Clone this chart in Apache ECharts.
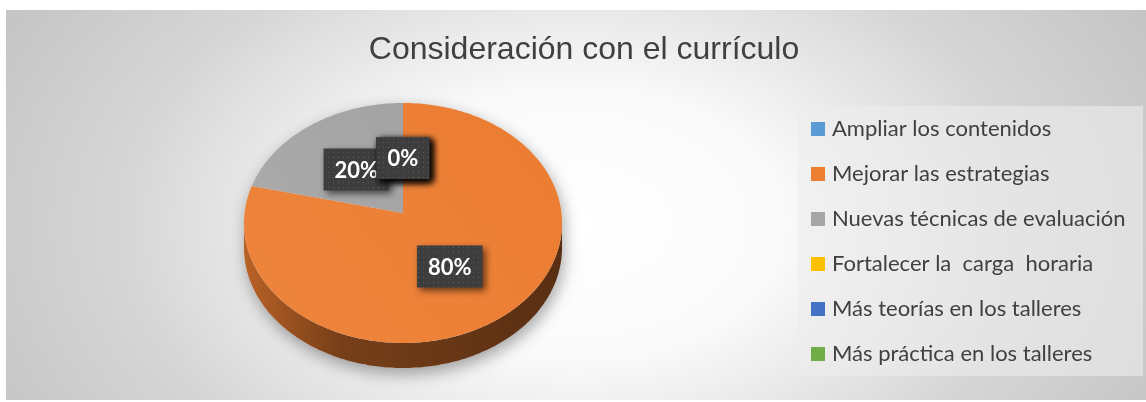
<!DOCTYPE html>
<html>
<head>
<meta charset="utf-8">
<script src="https://cdn.jsdelivr.net/npm/echarts@6/dist/echarts.min.js"></script>
<style>
html, body { margin: 0; padding: 0; background: #fff; }
#wrap { position: relative; width: 1146px; height: 402px; overflow: hidden; }
#main {
  position: absolute; left: 6px; top: 10px; width: 1140px; height: 390px;
  background: radial-gradient(ellipse 60% 115% at 50% 55%, #ffffff 0%, #fafafa 30%, #d6d6d6 66%, #c2c2c2 100%);
}
</style>
</head>
<body>
<div id="wrap"><div id="main"></div></div>
<script>
// datos del gráfico
var titulo = 'Consideración con el currículo';
var categorias = [
  'Ampliar los contenidos',
  'Mejorar las estrategias',
  'Nuevas técnicas de evaluación',
  'Fortalecer la  carga  horaria',
  'Más teorías en los talleres',
  'Más práctica en los talleres'
];
var valores = [0, 80, 20, 0, 0, 0];
var colores = ['#5b9bd5', '#ed7d31', '#a5a5a5', '#ffc000', '#4472c4', '#70ad47'];

// geometría del pastel 3D (elipse)
var CX = 397, CY = 213, RX = 159, RY = 120, PROF = 25, APEX = -10;

var total = valores.reduce(function (a, b) { return a + b; }, 0);

// patrón punteado para las etiquetas
var patron = document.createElement('canvas');
patron.width = 5; patron.height = 5;
var pc = patron.getContext('2d');
pc.fillStyle = '#3d3d3d'; pc.fillRect(0, 0, 5, 5);
pc.fillStyle = '#5c5c5c'; pc.fillRect(2, 2, 1, 1);

var FUENTE_ETQ = 'bold 22px Lato';
var medidor = document.createElement('canvas').getContext('2d');
medidor.font = FUENTE_ETQ;

// oscurece (f<1) o aclara (f>1) un color hex
function tono(hex, f) {
  var r = parseInt(hex.substr(1, 2), 16), g = parseInt(hex.substr(3, 2), 16), b = parseInt(hex.substr(5, 2), 16);
  function c(v) { return Math.max(0, Math.min(255, Math.round(f > 1 ? v + (255 - v) * (f - 1) : v * f))); }
  return 'rgb(' + c(r) + ',' + c(g) + ',' + c(b) + ')';
}

function borde(t, dy) {
  return [CX + RX * Math.sin(t), CY - RY * Math.cos(t) + (dy || 0)];
}

function renderPastel(params, api) {
  var i = params.dataIndex;
  var antes = 0;
  for (var k = 0; k < i; k++) antes += valores[k];
  var a0 = antes / total * Math.PI * 2;
  var a1 = (antes + valores[i]) / total * Math.PI * 2;
  var color = colores[i];
  var hijos = [];

  // sombra de toda la base (solo una vez)
  if (i === 0) {
    var sil = [];
    for (var s = 0; s <= 120; s++) sil.push(borde(s / 120 * Math.PI * 2, s > 30 && s < 90 ? PROF : 0));
    hijos.push({
      type: 'polygon', z2: 1, shape: { points: sil },
      style: { fill: '#ddd', shadowBlur: 16, shadowColor: 'rgba(0,0,0,0.35)', shadowOffsetX: 2, shadowOffsetY: 6 }
    });
  }

  if (a1 > a0) {
    var n = Math.max(2, Math.ceil((a1 - a0) / 0.02));
    // lado visible (mitad frontal)
    var s0 = Math.max(a0, Math.PI / 2), s1 = Math.min(a1, Math.PI * 1.5);
    if (s1 > s0) {
      var arriba = [], abajo = [];
      var m = Math.max(2, Math.ceil((s1 - s0) / 0.02));
      for (var j = 0; j <= m; j++) {
        var t = s0 + (s1 - s0) * j / m;
        arriba.push(borde(t, 0));
        abajo.unshift(borde(t, PROF));
      }
      hijos.push({
        type: 'polygon', z2: 5, shape: { points: arriba.concat(abajo) },
        style: {
          fill: new echarts.graphic.LinearGradient(0, 0, 1, 0, [
            { offset: 0, color: tono(color, 0.78) },
            { offset: 0.3, color: tono(color, 0.5) },
            { offset: 1, color: tono(color, 0.37) }
          ])
        }
      });
    }
    // cara superior
    var pts = [[CX, CY + APEX]];
    for (var q = 0; q <= n; q++) pts.push(borde(a0 + (a1 - a0) * q / n, 0));
    hijos.push({
      type: 'polygon', z2: 10, shape: { points: pts },
      style: {
        fill: new echarts.graphic.LinearGradient(1, 0, 0, 1, [
          { offset: 0, color: tono(color, 0.99) },
          { offset: 1, color: tono(color, 1.06) }
        ])
      }
    });
  }

  // etiqueta de porcentaje
  var medio = (a0 + a1) / 2;
  var p = borde(medio, 0);
  var lx = CX + (p[0] - CX) * 0.5;
  var ly = (CY + APEX) + (p[1] - CY - APEX) * 0.5;
  var txt = Math.round(valores[i] / total * 100) + '%';
  var w = medidor.measureText(txt).width + 22, h = 42;
  hijos.push({
    type: 'rect', z2: 100 + i * 2,
    shape: { x: lx - w / 2, y: ly - h / 2, width: w, height: h },
    style: {
      fill: { image: patron, repeat: 'repeat' },
      shadowBlur: 7, shadowColor: 'rgba(0,0,0,0.6)', shadowOffsetX: 3, shadowOffsetY: 3
    }
  });
  hijos.push({
    type: 'text', z2: 101 + i * 2,
    style: {
      text: txt, x: lx, y: ly + 1, align: 'center', verticalAlign: 'middle',
      fill: '#ffffff', font: FUENTE_ETQ
    }
  });

  return { type: 'group', children: hijos };
}

var myChart = echarts.init(document.getElementById('main'), null, { renderer: 'canvas' });
myChart.setOption({
  animation: false,
  title: {
    text: titulo,
    left: 578,
    top: 24,
    textAlign: 'center',
    padding: 0,
    textStyle: { fontFamily: 'Liberation Sans', fontWeight: 'normal', fontSize: 32, color: '#404040' }
  },
  legend: {
    orient: 'vertical',
    left: 805,
    top: 107,
    padding: 0,
    itemWidth: 14,
    itemHeight: 14,
    itemGap: 21,
    icon: 'rect',
    selectedMode: false,
    data: categorias,
    textStyle: { fontFamily: 'Lato', fontSize: 22, color: '#404040', lineHeight: 24, padding: [0, 0, 0, 2] }
  },
  graphic: [{
    type: 'rect', z: -1, silent: true,
    shape: { x: 792, y: 96, width: 345, height: 270 },
    style: { fill: 'rgba(236,236,236,0.6)' }
  }],
  series: [
    {
      // serie oculta: solo da los nombres y colores a la leyenda
      type: 'pie',
      radius: [0, 0],
      center: [-50, -50],
      silent: true,
      label: { show: false },
      labelLine: { show: false },
      data: categorias.map(function (c, i) {
        return { name: c, value: valores[i], itemStyle: { color: colores[i] } };
      })
    },
    {
      type: 'custom',
      coordinateSystem: 'none',
      silent: true,
      renderItem: renderPastel,
      data: valores
    }
  ]
});
</script>
</body>
</html>
